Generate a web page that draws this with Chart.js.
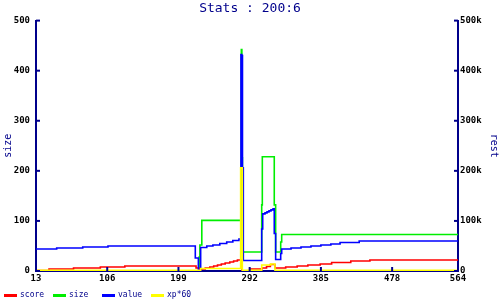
<!DOCTYPE html>
<html lang="en">
<head>
    <meta charset="UTF-8">
    <title>Stats : 200:6</title>
    <script src="https://cdn.jsdelivr.net/npm/chart.js"></script>
    <style>
        html, body { margin: 0; padding: 0; background: #fff; }
        #wrap { width: 500px; height: 300px; }
    </style>
</head>
<body>
    <div id="wrap">
        <canvas id="statsChart" width="500" height="300"></canvas>
    </div>
    <script>
        // tick labels on the time axis
        var xTicks = [13, 106, 199, 292, 385, 478, 564];

        // score (right axis, in k)
        var scoreT = [13, 30, 62, 97, 129, 222, 226, 229, 234, 240, 245, 250, 255, 260, 266, 271, 276, 282, 292, 308, 314, 319, 325, 339, 354, 368, 384, 399, 424, 449, 564];
        var scoreV = [1, 4, 6, 8, 10, 6, 3, 4, 6, 8, 10, 12, 14, 16, 18, 20, 22, 0, 4, 6, 9, 13, 6, 8, 10, 12, 14, 17, 20, 22, 22];

        // size (left axis)
        var sizeT = [13, 226, 227, 229.5, 281.1, 281.8, 282.5, 307.7, 308.5, 324.1, 325.9, 332.5, 333.8, 564];
        var sizeV = [0, 28, 52, 101, 442, 226, 38, 132, 228, 132, 38, 58, 73, 73];

        // value (right axis, in k)
        var valueT = [13, 40, 74, 107, 221, 225, 228, 236, 244, 253, 262, 270, 278, 280.6, 281.6, 282.6, 283.7, 307.7, 309, 312, 314.6, 317.2, 319.8, 322.5, 324.1, 325.9, 332.5, 333.8, 346, 359, 372, 385, 398, 410, 435, 564];
        var valueV = [44, 46, 48, 50, 26, 2, 47, 50, 52, 55, 58, 61, 64, 432, 430, 206, 21, 84, 114, 116, 118, 120, 122, 124, 75, 23, 35, 44, 46, 48, 50, 52, 54, 57, 60, 60];

        // xp*60 (right axis, in k)
        var xpT = [13, 228, 280.2, 282.4, 307.7, 319.5, 325, 564];
        var xpV = [1.5, 5, 206, 1.5, 12, 14, 1.5, 1.5];

        var navy = '#00008b';
        var mono = 'DejaVu Sans Mono';

        function points(t, v, k) {
            return t.map(function (x, i) { return { x: x, y: v[i] * k }; });
        }

        function line(label, t, v, k, color, axis, order) {
            return {
                label: label,
                data: points(t, v, k),
                borderColor: color,
                backgroundColor: color,
                borderWidth: 1.6,
                stepped: true,
                pointRadius: 0,
                fill: false,
                yAxisID: axis,
                order: order
            };
        }

        // inner tick marks and fixed legend
        var decorations = {
            id: 'decorations',
            afterDraw: function (chart) {
                var ctx = chart.ctx;
                var area = chart.chartArea;
                ctx.save();
                ctx.strokeStyle = navy;
                ctx.lineWidth = 2;
                ['y', 'y1', 'x'].forEach(function (id) {
                    var s = chart.scales[id];
                    s.ticks.forEach(function (t) {
                        var p = s.getPixelForValue(t.value);
                        ctx.beginPath();
                        if (id === 'y') { ctx.moveTo(area.left, p); ctx.lineTo(area.left + 4, p); }
                        else if (id === 'y1') { ctx.moveTo(area.right - 4, p); ctx.lineTo(area.right, p); }
                        else { ctx.moveTo(p, area.bottom); ctx.lineTo(p, area.bottom - 4); }
                        ctx.stroke();
                    });
                });

                var slots = [4, 53, 102, 151];
                var y = 295;
                ctx.font = '8px "' + mono + '"';
                ctx.textBaseline = 'middle';
                chart.data.datasets.forEach(function (ds, i) {
                    ctx.fillStyle = ds.borderColor;
                    ctx.fillRect(slots[i], y - 1, 13, 3);
                    ctx.fillStyle = navy;
                    ctx.fillText(ds.label, slots[i] + 16, y);
                });
                ctx.restore();
            }
        };

        var ctx = document.getElementById('statsChart').getContext('2d');
        var statsChart = new Chart(ctx, {
            type: 'line',
            data: {
                datasets: [
                    line('score', scoreT, scoreV, 1000, '#ff0000', 'y1', 2),
                    line('size', sizeT, sizeV, 1, '#00ee00', 'y', 3),
                    line('value', valueT, valueV, 1000, '#0000ff', 'y1', 1),
                    line('xp*60', xpT, xpV, 1000, '#ffff00', 'y1', 0)
                ]
            },
            plugins: [decorations],
            options: {
                responsive: false,
                animation: false,
                events: [],
                layout: { padding: 0 },
                plugins: {
                    legend: { display: false },
                    tooltip: { enabled: false },
                    title: {
                        display: true,
                        text: 'Stats : 200:6',
                        color: navy,
                        font: { family: mono, size: 13, weight: 'normal' },
                        padding: { top: 1, bottom: 4 }
                    }
                },
                scales: {
                    x: {
                        type: 'linear',
                        min: 13,
                        max: 564,
                        afterBuildTicks: function (s) {
                            s.ticks = xTicks.map(function (v) { return { value: v }; });
                        },
                        afterFit: function (s) { s.height = 29; },
                        grid: { display: false, drawTicks: false },
                        border: { color: navy, width: 2 },
                        ticks: {
                            color: '#000',
                            padding: 2,
                            maxRotation: 0,
                            font: { family: mono, size: 9, weight: 'bold' },
                            callback: function (v) { return String(v); }
                        }
                    },
                    y: {
                        position: 'left',
                        min: 0,
                        max: 500,
                        afterFit: function (s) { s.width = 36; },
                        grid: { display: false, drawTicks: false },
                        border: { color: navy, width: 2 },
                        ticks: {
                            stepSize: 100,
                            color: '#000',
                            padding: 6,
                            font: { family: mono, size: 9, weight: 'bold' }
                        },
                        title: {
                            display: true,
                            text: 'size',
                            color: navy,
                            padding: { top: 2, bottom: 0 },
                            font: { family: mono, size: 10 }
                        }
                    },
                    y1: {
                        position: 'right',
                        min: 0,
                        max: 500000,
                        afterFit: function (s) { s.width = 42; },
                        grid: { display: false, drawTicks: false },
                        border: { color: navy, width: 2 },
                        ticks: {
                            stepSize: 100000,
                            color: '#000',
                            padding: 2,
                            font: { family: mono, size: 9, weight: 'bold' },
                            callback: function (v) { return v === 0 ? '0' : (v / 1000) + 'k'; }
                        },
                        title: {
                            display: true,
                            text: 'rest',
                            color: navy,
                            padding: { top: 0, bottom: 0 },
                            font: { family: mono, size: 10 }
                        }
                    }
                }
            }
        });
    </script>
</body>
</html>
